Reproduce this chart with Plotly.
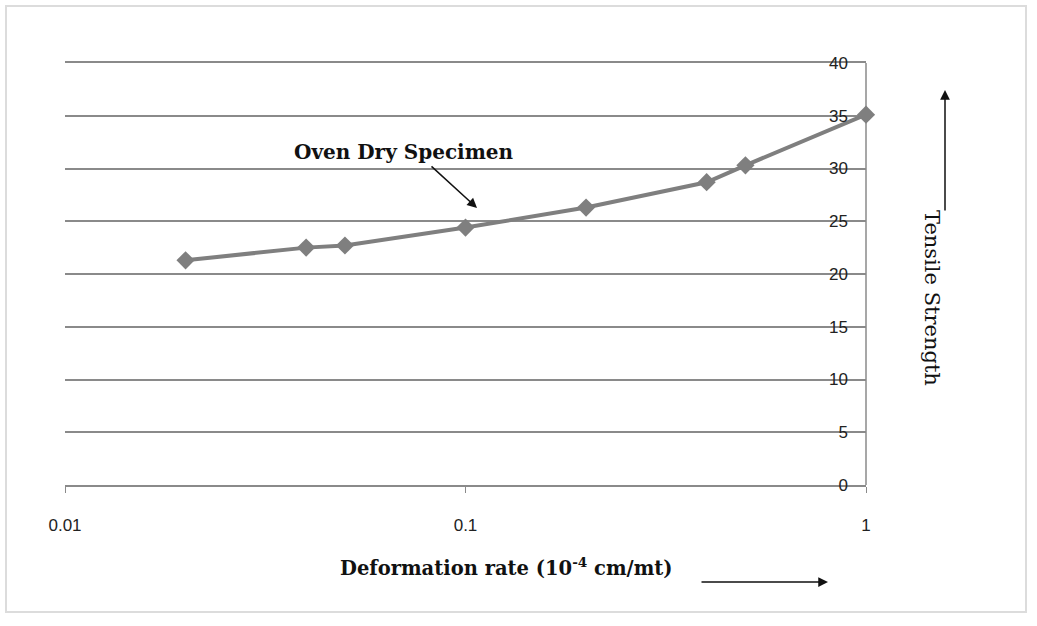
import plotly.graph_objects as go

# Data
deformation_rate = [0.02, 0.04, 0.05, 0.1, 0.2, 0.4, 0.5, 1.0]
tensile_strength = [21.3, 22.5, 22.7, 24.4, 26.3, 28.7, 30.3, 35.1]
x_tick_vals = [0.01, 0.1, 1]
x_tick_text = ["0.01", "0.1", "1"]
y_tick_vals = [0, 5, 10, 15, 20, 25, 30, 35, 40]

W, H = 1037, 626
L, R, T, B = 65, 171, 63, 141
pw, ph = W - L - R, H - T - B

def px(xp):
    return (xp - L) / pw

def py(yp):
    return (H - B - yp) / ph

fig = go.Figure()
fig.add_trace(go.Scatter(
    x=deformation_rate, y=tensile_strength, mode="lines+markers",
    line=dict(color="#7f7f7f", width=4),
    marker=dict(symbol="diamond", size=14, color="#7f7f7f"),
    showlegend=False, hoverinfo="skip", cliponaxis=False))

axis_font = dict(family="Liberation Sans, Arial, sans-serif", size=17, color="#222")
serif = "DejaVu Serif, Liberation Serif, serif"

fig.update_layout(
    width=W, height=H,
    margin=dict(l=L, r=R, t=T, b=B),
    paper_bgcolor="white", plot_bgcolor="white",
    xaxis=dict(type="log", range=[-2, 0], tickvals=x_tick_vals, ticktext=x_tick_text,
               showgrid=False, zeroline=False, showline=True, mirror=True,
               linecolor="#8a8a8a", linewidth=1.5, ticks="outside", ticklen=6,
               tickcolor="#8a8a8a", tickfont=axis_font, ticklabelstandoff=18),
    yaxis=dict(range=[0, 40], tickvals=y_tick_vals, side="left",
               anchor="free", position=px(848),
               showgrid=True, gridcolor="#8a8a8a", gridwidth=1.5,
               zeroline=False, showline=False, ticks="", tickfont=axis_font),
)

# Vertical axis line at the right edge of the plot area
fig.add_shape(type="line", xref="paper", yref="paper", x0=1, x1=1, y0=0, y1=1,
              line=dict(color="#8a8a8a", width=1.5), layer="below")

# Outer chart border
fig.add_shape(type="rect", xref="paper", yref="paper",
              x0=px(6), x1=px(1026), y0=py(612), y1=py(6),
              line=dict(color="#dcdcdc", width=2), fillcolor="rgba(0,0,0,0)", layer="below")

def arrow(tail, head):
    fig.add_annotation(xref="paper", yref="paper", x=px(head[0]), y=py(head[1]),
                       ax=tail[0] - head[0], ay=tail[1] - head[1],
                       axref="pixel", ayref="pixel",
                       text="", showarrow=True, arrowhead=2, arrowsize=1.3,
                       arrowwidth=1.5, arrowcolor="#111")

# Series annotation
fig.add_annotation(xref="paper", yref="paper", x=px(404), y=py(138),
                   text="<b>Oven Dry Specimen</b>", showarrow=False,
                   font=dict(family=serif, size=20, color="#111"))
arrow((430, 165), (477, 208))

# X axis title with arrow
fig.add_annotation(xref="paper", yref="paper", x=px(506), y=py(582),
                   text="<b>Deformation rate (10<sup>-4</sup> cm/mt)</b>", showarrow=False,
                   font=dict(family=serif, size=19.5, color="#111"))
arrow((700, 582), (828, 582))

# Y axis title with arrow
fig.add_annotation(xref="paper", yref="paper", x=px(946), y=py(298),
                   text="Tensile Strength", textangle=90, showarrow=False,
                   font=dict(family=serif, size=21, color="#111"))
arrow((945, 212), (945, 90))

fig.write_html("out.html")
